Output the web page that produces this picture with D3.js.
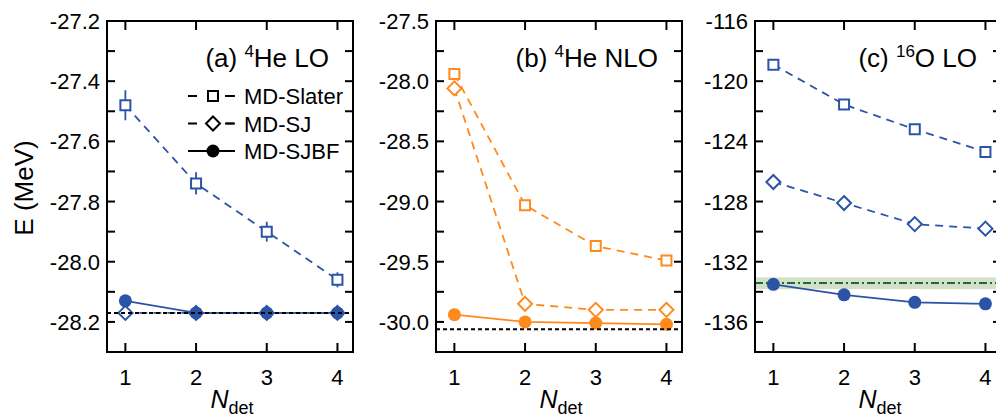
<!DOCTYPE html>
<html>
<head>
<meta charset="utf-8">
<script src="https://cdn.jsdelivr.net/npm/d3@7"></script>
<style>
  body { margin: 0; background: #fff; }
  svg { display: block; font-family: "Liberation Sans", Arial, sans-serif; }
</style>
</head>
<body>
<svg id="chart" width="996" height="418"></svg>
<script>
// number of determinants on the x axis
var nDet = [1, 2, 3, 4];

// (a) 4He LO
var heLoSlater = [-27.48, -27.74, -27.90, -28.06];
var heLoSlaterErr = [0.05, 0.037, 0.033, 0.025];
var heLoSJ = [-28.17, -28.17, -28.17, -28.17];
var heLoSJBF = [-28.13, -28.17, -28.17, -28.17];
var heLoExact = -28.17;
var heLoTicks = [-27.2, -27.4, -27.6, -27.8, -28.0, -28.2];

// (b) 4He NLO
var heNloSlater = [-27.94, -29.03, -29.37, -29.49];
var heNloSJ = [-28.06, -29.85, -29.90, -29.90];
var heNloSJBF = [-29.94, -30.00, -30.01, -30.02];
var heNloExact = -30.06;
var heNloTicks = [-27.5, -28.0, -28.5, -29.0, -29.5, -30.0];

// (c) 16O LO
var oLoSlater = [-118.9, -121.55, -123.2, -124.7];
var oLoSJ = [-126.7, -128.1, -129.5, -129.8];
var oLoSJBF = [-133.5, -134.2, -134.7, -134.8];
var oLoRef = -133.42;
var oLoRefBand = [-133.82, -133.04];
var oLoTicks = [-116, -120, -124, -128, -132, -136];

var legendLabels = ['MD-Slater', 'MD-SJ', 'MD-SJBF'];

var blue = '#2b54a6', orange = '#ff8a1c';

var svg = d3.select('#chart');
var plotTop = 21, plotBottom = 352, panelW = 246;

// plain hyphen for negative numbers, like the original figure
function hyphen(f) {
    return function (v) { return f(v).replace('\u2212', '-'); };
}

var panels = [
    { left: 107, label: 'a', nucl: '4', name: 'He LO', color: blue,
      domain: [-28.3, -27.2], ticks: heLoTicks, minor: 0.1, fmt: hyphen(d3.format('.1f')),
      slater: heLoSlater, err: heLoSlaterErr, sj: heLoSJ, sjbf: heLoSJBF, exact: heLoExact },
    { left: 436, label: 'b', nucl: '4', name: 'He NLO', color: orange,
      domain: [-30.25, -27.5], ticks: heNloTicks, minor: 0.25, fmt: hyphen(d3.format('.1f')),
      slater: heNloSlater, sj: heNloSJ, sjbf: heNloSJBF, exact: heNloExact },
    { left: 755, label: 'c', nucl: '16', name: 'O LO', color: blue,
      domain: [-138, -116], ticks: oLoTicks, minor: 2, fmt: hyphen(d3.format('d')),
      slater: oLoSlater, sj: oLoSJ, sjbf: oLoSJBF, band: oLoRefBand, ref: oLoRef }
];

var squareSym = d3.symbol().type(d3.symbolSquare).size(100);
var diamondSym = function (s) {
    return 'M0,' + (-s) + 'L' + s + ',0L0,' + s + 'L' + (-s) + ',0Z';
};

function drawPanel(p) {
    var x = d3.scaleLinear().domain([0.74, 4.22]).range([p.left, p.left + panelW]);
    var y = d3.scaleLinear().domain(p.domain).range([plotBottom, plotTop]);
    var g = svg.append('g');
    var right = p.left + panelW;

    // shaded reference band (16O)
    if (p.band) {
        g.append('rect')
            .attr('x', p.left).attr('width', panelW)
            .attr('y', y(p.band[1])).attr('height', y(p.band[0]) - y(p.band[1]))
            .attr('fill', '#d3e2c3');
        g.append('line')
            .attr('x1', p.left).attr('x2', right)
            .attr('y1', y(p.ref)).attr('y2', y(p.ref))
            .attr('stroke', '#1c6558').attr('stroke-width', 2)
            .attr('stroke-dasharray', '8,3,2,3');
    }

    var line = d3.line().x(function (d, i) { return x(nDet[i]); }).y(function (d) { return y(d); });

    g.append('path').datum(p.slater).attr('d', line)
        .attr('fill', 'none').attr('stroke', p.color).attr('stroke-width', 1.8)
        .attr('stroke-dasharray', '8,6');
    g.append('path').datum(p.sj).attr('d', line)
        .attr('fill', 'none').attr('stroke', p.color).attr('stroke-width', 1.8)
        .attr('stroke-dasharray', '8,6');
    g.append('path').datum(p.sjbf).attr('d', line)
        .attr('fill', 'none').attr('stroke', p.color).attr('stroke-width', 1.8);

    // error bars
    if (p.err) {
        g.selectAll('.err').data(p.slater).enter().append('line')
            .attr('x1', function (d, i) { return x(nDet[i]); })
            .attr('x2', function (d, i) { return x(nDet[i]); })
            .attr('y1', function (d, i) { return y(d + p.err[i]); })
            .attr('y2', function (d, i) { return y(d - p.err[i]); })
            .attr('stroke', p.color).attr('stroke-width', 1.8);
    }

    g.selectAll('.sq').data(p.slater).enter().append('path')
        .attr('d', squareSym)
        .attr('transform', function (d, i) { return 'translate(' + x(nDet[i]) + ',' + y(d) + ')'; })
        .attr('fill', '#fff').attr('stroke', p.color).attr('stroke-width', 2);
    g.selectAll('.dm').data(p.sj).enter().append('path')
        .attr('d', diamondSym(7))
        .attr('transform', function (d, i) { return 'translate(' + x(nDet[i]) + ',' + y(d) + ')'; })
        .attr('fill', '#fff').attr('stroke', p.color).attr('stroke-width', 2);
    g.selectAll('.ci').data(p.sjbf).enter().append('circle')
        .attr('cx', function (d, i) { return x(nDet[i]); })
        .attr('cy', function (d) { return y(d); })
        .attr('r', 6.5).attr('fill', p.color);

    if (p.exact !== undefined) {
        g.append('line')
            .attr('x1', p.left).attr('x2', right)
            .attr('y1', y(p.exact)).attr('y2', y(p.exact))
            .attr('stroke', '#000').attr('stroke-width', 2)
            .attr('stroke-dasharray', '4,3');
    }

    // frame and inward ticks
    g.append('rect')
        .attr('x', p.left).attr('y', plotTop).attr('width', panelW).attr('height', plotBottom - plotTop)
        .attr('fill', 'none').attr('stroke', '#000').attr('stroke-width', 2);

    var minorTicks = d3.range(p.domain[1], p.domain[0] - 1e-9, -p.minor);
    minorTicks.forEach(function (v) {
        g.append('line').attr('x1', p.left).attr('x2', p.left + 8)
            .attr('y1', y(v)).attr('y2', y(v)).attr('stroke', '#000').attr('stroke-width', 2);
        g.append('line').attr('x1', right - 8).attr('x2', right)
            .attr('y1', y(v)).attr('y2', y(v)).attr('stroke', '#000').attr('stroke-width', 2);
    });
    nDet.forEach(function (v) {
        g.append('line').attr('x1', x(v)).attr('x2', x(v))
            .attr('y1', plotBottom).attr('y2', plotBottom - 9).attr('stroke', '#000').attr('stroke-width', 2);
        g.append('line').attr('x1', x(v)).attr('x2', x(v))
            .attr('y1', plotTop).attr('y2', plotTop + 9).attr('stroke', '#000').attr('stroke-width', 2);
        g.append('text').attr('x', x(v)).attr('y', 385)
            .attr('text-anchor', 'middle').attr('font-size', 22).text(v);
    });
    p.ticks.forEach(function (v) {
        g.append('text').attr('x', p.left - 7).attr('y', y(v) + 8)
            .attr('text-anchor', 'end').attr('font-size', 22).text(p.fmt(v));
    });

    // panel title
    var t = g.append('text').attr('x', right - 24).attr('y', 67)
        .attr('text-anchor', 'end').attr('font-size', 26);
    t.append('tspan').text('(' + p.label + ') ');
    t.append('tspan').attr('font-size', 17).attr('dy', -10).text(p.nucl);
    t.append('tspan').attr('dy', 10).text(p.name);

    // x axis label
    var xl = g.append('text').attr('x', p.left + panelW / 2 + 2).attr('y', 408)
        .attr('text-anchor', 'middle').attr('font-size', 25);
    xl.append('tspan').attr('font-style', 'italic').text('N');
    xl.append('tspan').attr('font-size', 18).attr('dy', 6).text('det');
}

panels.forEach(drawPanel);

// y axis label
svg.append('text')
    .attr('transform', 'translate(33,188) rotate(-90)')
    .attr('text-anchor', 'middle').attr('font-size', 26)
    .text('E (MeV)');

// legend in panel (a)
var legend = svg.append('g');
legendLabels.forEach(function (name, i) {
    var ly = 96 + i * 27.5;
    var item = legend.append('g').attr('transform', 'translate(213,' + ly + ')');
    item.append('line').attr('x1', -25).attr('x2', 22)
        .attr('stroke', '#000').attr('stroke-width', 1.8)
        .attr('stroke-dasharray', i < 2 ? '9,28' : null);
    if (i < 2) {
        item.append('line').attr('x1', 13).attr('x2', 22)
            .attr('stroke', '#000').attr('stroke-width', 1.8);
    }
    if (i === 0) {
        item.append('path').attr('d', squareSym).attr('fill', '#fff')
            .attr('stroke', '#000').attr('stroke-width', 2);
    } else if (i === 1) {
        item.append('path').attr('d', diamondSym(7)).attr('fill', '#fff')
            .attr('stroke', '#000').attr('stroke-width', 2);
    } else {
        item.append('circle').attr('r', 6.5).attr('fill', '#000');
    }
    item.append('text').attr('x', 31).attr('y', 8).attr('font-size', 22).text(name);
});
</script>
</body>
</html>
